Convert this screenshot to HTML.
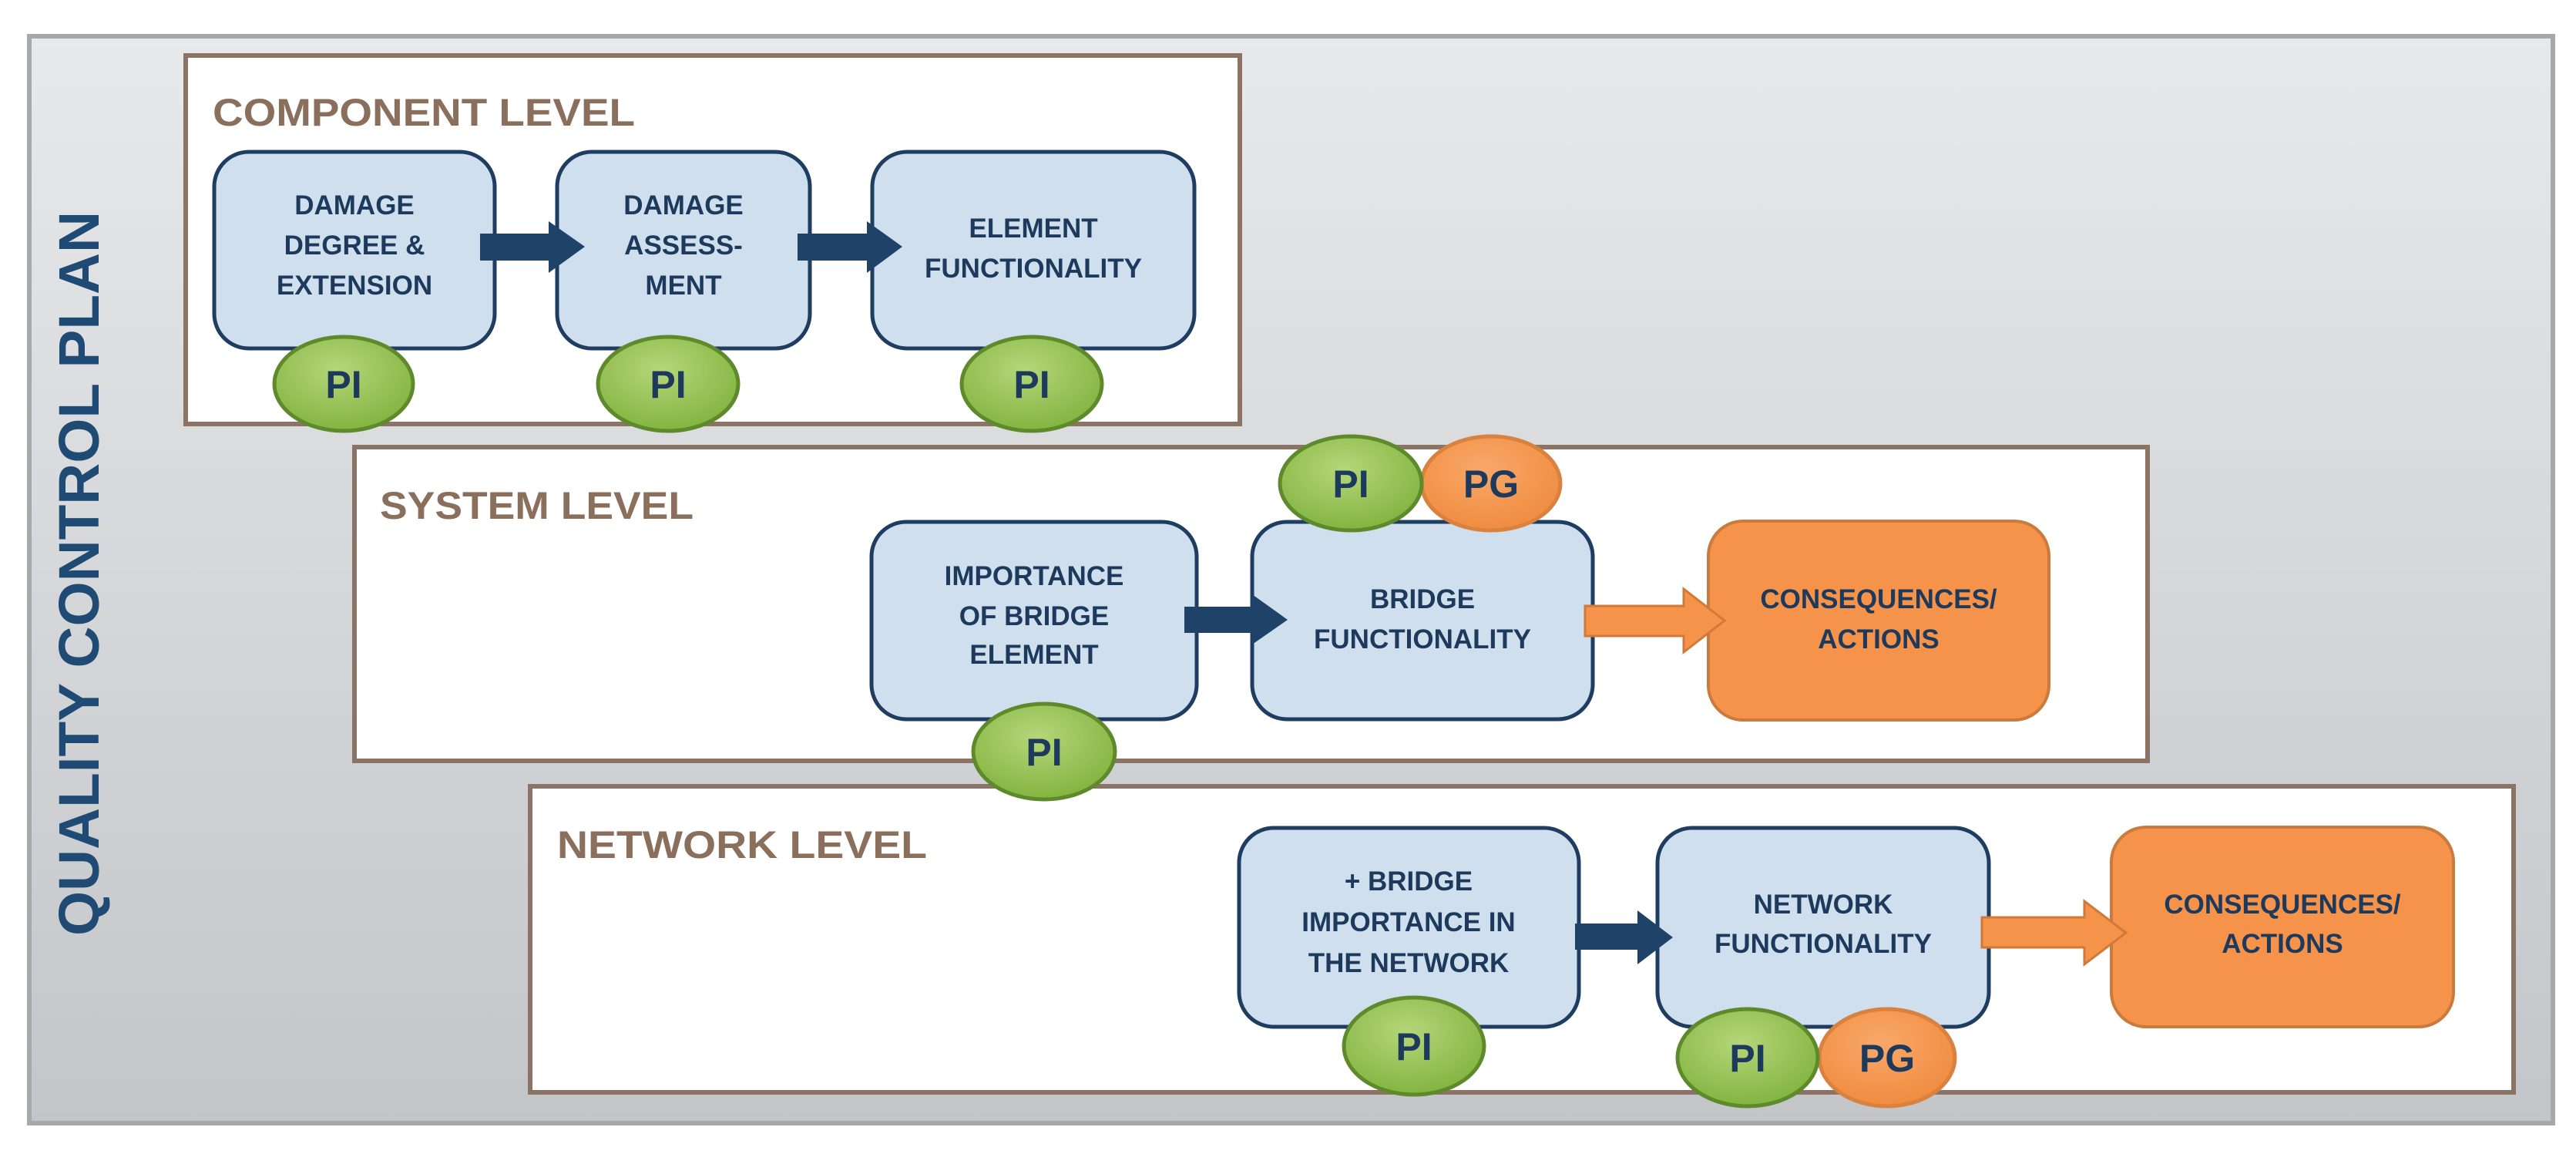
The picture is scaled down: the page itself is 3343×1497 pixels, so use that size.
<!DOCTYPE html>
<html><head><meta charset="utf-8"><style>html,body{margin:0;padding:0;background:#fff}svg{display:block}</style></head>
<body>
<svg width="3343" height="1497" viewBox="0 0 3343 1497" xmlns="http://www.w3.org/2000/svg">
<defs>
<linearGradient id="bg" x1="0" y1="0" x2="0" y2="1"><stop offset="0" stop-color="#e8e9eb"/><stop offset="1" stop-color="#c3c5c8"/></linearGradient>
<radialGradient id="gr" cx="0.45" cy="0.35" r="0.7"><stop offset="0" stop-color="#b5d67a"/><stop offset="1" stop-color="#7fb23c"/></radialGradient>
<radialGradient id="og" cx="0.45" cy="0.35" r="0.7"><stop offset="0" stop-color="#f9a86a"/><stop offset="1" stop-color="#ef8a3c"/></radialGradient>
</defs>
<rect x="38" y="47" width="3275" height="1410" fill="url(#bg)" stroke="#a6a8ab" stroke-width="6"/>
<g font-family="Liberation Sans, sans-serif" font-weight="bold">
<text transform="translate(128,744) rotate(-90)" text-anchor="middle" font-size="74" fill="#1f4a73" textLength="940" lengthAdjust="spacingAndGlyphs">QUALITY CONTROL PLAN</text>

<!-- level boxes -->
<rect x="241" y="72" width="1368" height="478" fill="#fff" stroke="#8b7466" stroke-width="6"/>
<rect x="460" y="580" width="2327" height="407" fill="#fff" stroke="#8b7466" stroke-width="6"/>
<rect x="688" y="1020" width="2574" height="397" fill="#fff" stroke="#8b7466" stroke-width="6"/>
<g fill="#8a6f5c" font-size="50">
<text x="276" y="163" textLength="548" lengthAdjust="spacingAndGlyphs">COMPONENT LEVEL</text>
<text x="493" y="673" textLength="407" lengthAdjust="spacingAndGlyphs">SYSTEM LEVEL</text>
<text x="723" y="1113" textLength="480" lengthAdjust="spacingAndGlyphs">NETWORK LEVEL</text>
</g>

<!-- blue boxes -->
<g fill="#cfdfee" stroke="#1f3d60" stroke-width="5">
<rect x="278" y="197" width="364" height="255" rx="45"/>
<rect x="723" y="197" width="328" height="255" rx="45"/>
<rect x="1132" y="197" width="418" height="255" rx="45"/>
<rect x="1131" y="677" width="422" height="256" rx="45"/>
<rect x="1625" y="677" width="442" height="256" rx="45"/>
<rect x="1608" y="1074" width="441" height="258" rx="45"/>
<rect x="2151" y="1074" width="430" height="258" rx="45"/>
</g>
<g fill="#f5934b" stroke="#c97a3e" stroke-width="4">
<rect x="2217" y="676" width="442" height="258" rx="45"/>
<rect x="2740" y="1073" width="444" height="259" rx="45"/>
</g>

<!-- dark arrows -->
<g fill="#1f4368">
<polygon points="623,303 712,303 712,287 759,320 712,354 712,338 623,338"/>
<polygon points="1035,303 1125,303 1125,287 1171,320 1125,354 1125,338 1035,338"/>
<polygon points="1537,787 1625,787 1625,771 1671,804 1625,836 1625,821 1537,821"/>
<polygon points="2044,1198 2125,1198 2125,1181 2171,1216 2125,1251 2125,1232 2044,1232"/>
</g>
<g fill="#f5934b" stroke="#d07a3a" stroke-width="3">
<polygon points="2057,786 2185,786 2185,764 2238,805 2185,846 2185,825 2057,825"/>
<polygon points="2572,1190 2705,1190 2705,1169 2759,1210 2705,1251 2705,1229 2572,1229"/>
</g>

<!-- box text -->
<g fill="#1d3a5c" font-size="35" text-anchor="middle">
<text x="460" y="278">DAMAGE</text><text x="460" y="330">DEGREE &amp;</text><text x="460" y="382">EXTENSION</text>
<text x="887" y="278">DAMAGE</text><text x="887" y="330">ASSESS-</text><text x="887" y="382">MENT</text>
<text x="1341" y="308">ELEMENT</text><text x="1341" y="360">FUNCTIONALITY</text>
<text x="1342" y="759">IMPORTANCE</text><text x="1342" y="811">OF BRIDGE</text><text x="1342" y="861">ELEMENT</text>
<text x="1846" y="789">BRIDGE</text><text x="1846" y="841">FUNCTIONALITY</text>
<text x="2438" y="789">CONSEQUENCES/</text><text x="2438" y="841">ACTIONS</text>
<text x="1828" y="1155">+ BRIDGE</text><text x="1828" y="1208">IMPORTANCE IN</text><text x="1828" y="1261">THE NETWORK</text>
<text x="2366" y="1185">NETWORK</text><text x="2366" y="1236">FUNCTIONALITY</text>
<text x="2962" y="1185">CONSEQUENCES/</text><text x="2962" y="1236">ACTIONS</text>
</g>

<!-- circles -->
<g stroke-width="5">
<ellipse cx="446" cy="498" rx="90" ry="61" fill="url(#gr)" stroke="#5e8a2c"/>
<ellipse cx="867" cy="498" rx="91" ry="61" fill="url(#gr)" stroke="#5e8a2c"/>
<ellipse cx="1339" cy="498" rx="91" ry="61" fill="url(#gr)" stroke="#5e8a2c"/>
<ellipse cx="1935" cy="627" rx="90" ry="61" fill="url(#og)" stroke="#d9823f"/>
<ellipse cx="1753" cy="627" rx="92" ry="61" fill="url(#gr)" stroke="#5e8a2c"/>
<ellipse cx="1355" cy="975" rx="92" ry="62" fill="url(#gr)" stroke="#5e8a2c"/>
<ellipse cx="1835" cy="1357" rx="91" ry="63" fill="url(#gr)" stroke="#5e8a2c"/>
<ellipse cx="2449" cy="1372" rx="88" ry="63" fill="url(#og)" stroke="#d9823f"/>
<ellipse cx="2268" cy="1372" rx="91" ry="63" fill="url(#gr)" stroke="#5e8a2c"/>
</g>
<g fill="#1d3a5c" font-size="50" text-anchor="middle">
<text x="446" y="516">PI</text><text x="867" y="516">PI</text><text x="1339" y="516">PI</text>
<text x="1753" y="645">PI</text><text x="1935" y="645">PG</text>
<text x="1355" y="993">PI</text>
<text x="1835" y="1375">PI</text><text x="2268" y="1390">PI</text><text x="2449" y="1390">PG</text>
</g>
</g>
</svg>
</body></html>
